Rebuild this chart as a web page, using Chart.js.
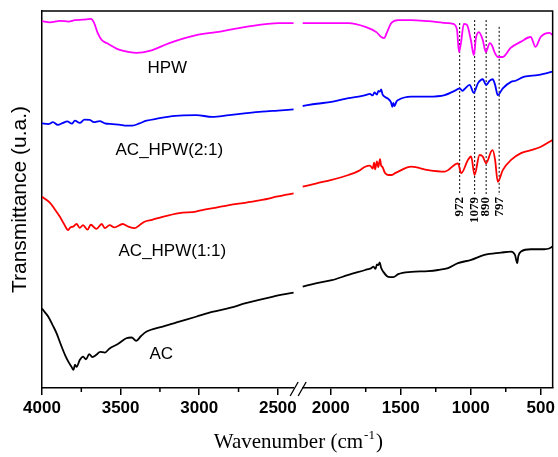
<!DOCTYPE html>
<html>
<head>
<meta charset="utf-8">
<script src="https://cdn.jsdelivr.net/npm/chart.js@4.4.1/dist/chart.umd.min.js"></script>
<style>
html, body { margin: 0; padding: 0; background: #fff; }
canvas { display: block; }
</style>
</head>
<body>
<canvas id="chart" width="558" height="457"></canvas>
<script>
// broken wavenumber axis: 4000-2400 | 2200-415
var leftStart = 4000, leftEnd = 2400, rightStart = 2200, rightEnd = 415;
var gapUnits = 58, rightScale = 0.8905;

var majorWn = [4000, 3500, 3000, 2500, 2000, 1500, 1000, 500];
var tickLabels = ['4000', '3500', '3000', '2500', '2000', '1500', '1000', '500'];
var minorWn = [3750, 3250, 2750, 1750, 1250, 750];

// HPW
var hpwWn = [4000, 3950, 3886, 3830, 3791, 3740, 3690, 3670, 3646, 3620, 3589, 3519, 3443, 3399, 3316, 3190, 3019, 2892, 2703, 2494, 2400, 2300,
    2200, 2015, 1873, 1752, 1674, 1639, 1617, 1603, 1567, 1518, 1425, 1304, 1162, 1127, 1098, 1084, 1070, 1049, 1027, 999, 978, 963, 942, 914, 892, 864, 850, 828, 807, 771, 715, 644, 572, 537, 501, 437, 416];
var hpwT = [97.3, 97.0, 97.4, 97.2, 97.6, 97.7, 97.9, 97.0, 94.2, 92.3, 91.5, 89.9, 89.1, 88.9, 89.4, 91.5, 93.6, 94.4, 95.8, 96.8, 96.8, null,
    96.8, 96.8, 96.8, 95.8, 94.4, 93.1, 92.8, 93.9, 96.8, 97.6, 97.6, 97.3, 96.8, 96.6, 95.0, 89.1, 91.5, 96.6, 96.3, 92.3, 88.3, 92.8, 94.4, 92.3, 89.1, 91.5, 91.0, 88.9, 87.8, 87.8, 90.2, 91.8, 93.1, 90.5, 93.1, 94.2, 93.6];

// AC_HPW(2:1)
var ac21Wn = [4000, 3960, 3930, 3900, 3867, 3840, 3810, 3791, 3760, 3730, 3696, 3670, 3633, 3600, 3551, 3500, 3475, 3424, 3380, 3335, 3260, 3190, 3100, 3019, 2918, 2810, 2700, 2601, 2500, 2400, 2300,
    2200, 2100, 1994, 1873, 1800, 1752, 1720, 1700, 1688, 1670, 1660, 1648, 1640, 1630, 1612, 1589, 1570, 1560, 1553, 1545, 1530, 1518, 1425, 1304, 1186, 1105, 1079, 1060, 1044, 1008, 978, 949, 914, 890, 865, 843, 826, 807, 771, 712, 680, 617, 523, 480, 416];
var ac21T = [70.2, 70.0, 70.5, 69.8, 70.3, 70.7, 70.1, 70.9, 70.3, 71.2, 71.1, 70.5, 70.8, 70.2, 70.0, 69.8, 69.6, 69.6, 70.2, 70.9, 71.5, 72.0, 72.3, 72.4, 71.9, 72.4, 72.9, 73.3, 73.6, 73.9, null,
    74.8, 75.4, 75.9, 76.9, 77.3, 77.7, 78.0, 77.6, 78.4, 77.8, 78.8, 78.6, 79.2, 77.9, 77.2, 76.7, 75.8, 74.6, 75.6, 74.8, 76.0, 76.4, 77.3, 77.3, 77.7, 79.0, 79.5, 78.8, 79.3, 80.4, 78.3, 80.8, 81.9, 80.4, 81.5, 81.9, 80.4, 77.7, 79.5, 81.2, 81.5, 82.6, 83.0, 83.3, 83.9];

// AC_HPW(1:1)
var ac11Wn = [4000, 3975, 3949, 3920, 3886, 3860, 3834, 3820, 3802, 3780, 3760, 3739, 3710, 3690, 3654, 3620, 3600, 3570, 3540, 3487, 3450, 3411, 3380, 3348, 3300, 3234, 3127, 3021, 2981, 2900, 2810, 2700, 2601, 2500, 2400, 2300,
    2200, 2100, 1994, 1873, 1800, 1754, 1720, 1700, 1690, 1683, 1670, 1660, 1648, 1640, 1630, 1612, 1589, 1567, 1540, 1518, 1425, 1304, 1186, 1091, 1068, 1020, 997, 973, 937, 914, 890, 855, 843, 826, 807, 771, 712, 641, 570, 499, 416];
var ac11T = [50.7, 50.0, 49.1, 47.5, 45.4, 43.5, 41.9, 42.6, 42.8, 43.5, 42.5, 43.2, 42.0, 43.3, 42.2, 43.5, 42.4, 43.2, 42.6, 43.5, 42.8, 42.4, 43.2, 44.1, 44.6, 45.4, 46.4, 46.8, 47.2, 47.8, 48.5, 49.2, 49.9, 50.8, 51.6, null,
    53.4, 54.3, 55.2, 56.5, 57.6, 58.7, 59.0, 58.2, 59.8, 58.0, 60.1, 58.6, 60.7, 59.0, 58.6, 57.0, 56.5, 56.5, 57.0, 57.4, 58.7, 57.8, 57.4, 59.6, 57.0, 60.5, 61.4, 56.5, 61.8, 61.4, 59.6, 62.7, 63.1, 60.5, 54.7, 57.8, 60.5, 62.3, 63.1, 64.0, 65.8];

// AC
var acWn = [4000, 3980, 3960, 3930, 3907, 3880, 3854, 3830, 3812, 3800, 3790, 3780, 3760, 3739, 3720, 3700, 3680, 3654, 3630, 3600, 3570, 3520, 3464, 3430, 3401, 3370, 3337, 3232, 3127, 3021, 2918, 2800, 2704, 2536, 2400, 2300,
    2200, 2100, 1992, 1873, 1754, 1710, 1695, 1680, 1670, 1660, 1650, 1640, 1624, 1589, 1553, 1518, 1425, 1304, 1233, 1162, 1091, 997, 902, 784, 712, 684, 668, 660, 641, 570, 475, 440, 416];
var acT = [21.1, 20.0, 18.9, 16.5, 14.5, 11.5, 8.8, 6.8, 5.6, 4.8, 6.2, 5.6, 7.4, 8.3, 7.6, 9.0, 8.2, 8.8, 9.6, 9.4, 10.5, 11.6, 13.2, 13.4, 12.5, 13.8, 14.9, 16.3, 17.6, 18.9, 20.2, 21.3, 22.5, 24.2, 25.3, null,
    26.9, 27.8, 28.6, 30.0, 31.3, 31.8, 32.2, 31.6, 32.8, 32.6, 33.3, 31.9, 30.8, 29.5, 29.4, 30.2, 30.8, 31.0, 31.3, 31.8, 33.1, 34.0, 35.3, 35.9, 36.2, 35.3, 33.1, 35.0, 36.2, 36.8, 36.8, 37.0, 37.5];

// marked bands (dotted lines) and their printed labels
var bandWn = [1079, 972, 890, 797];
var bandTop = [96.8, 97.6, 97.6, 95.8];
var bandBottom = 51.2;
var bandLabels = ['972', '1079', '890', '797'];

// curve names placed in the plot
var nameText = ['HPW', 'AC_HPW(2:1)', 'AC_HPW(1:1)', 'AC'];
var nameWn = [3203, 3190, 3171, 3242];
var nameT = [84.9, 63.1, 36.2, 9.0];

function pos(w) {
    if (w >= 2300) return leftStart - w;
    return (leftStart - leftEnd) + gapUnits + (rightStart - w) * rightScale;
}

function series(wn, t) {
    var out = [];
    for (var i = 0; i < wn.length; i++) {
        out.push({x: pos(wn[i]), y: t[i]});
    }
    return out;
}

function curve(wn, t, color) {
    return {
        data: series(wn, t),
        borderColor: color,
        borderWidth: 1.8,
        pointRadius: 0,
        spanGaps: false,
        cubicInterpolationMode: 'monotone'
    };
}

var datasets = [
    curve(hpwWn, hpwT, '#ff00ff'),
    curve(ac21Wn, ac21T, '#0000ff'),
    curve(ac11Wn, ac11T, '#ff0000'),
    curve(acWn, acT, '#000000')
];
for (var i = 0; i < bandWn.length; i++) {
    datasets.push({
        data: [{x: pos(bandWn[i]), y: bandTop[i]}, {x: pos(bandWn[i]), y: bandBottom}],
        borderColor: '#000',
        borderWidth: 1,
        borderDash: [2, 2],
        pointRadius: 0
    });
}

var decorations = {
    id: 'decorations',
    afterDatasetsDraw: function(chart) {
        var ctx = chart.ctx, a = chart.chartArea, xs = chart.scales.x, ys = chart.scales.y;
        ctx.save();
        ctx.strokeStyle = '#000';
        ctx.lineWidth = 1.5;
        ctx.beginPath();
        ctx.moveTo(a.left, a.top);
        ctx.lineTo(a.right, a.top);
        ctx.lineTo(a.right, a.bottom);
        ctx.stroke();

        // minor ticks
        for (var i = 0; i < minorWn.length; i++) {
            var px = xs.getPixelForValue(pos(minorWn[i]));
            ctx.beginPath();
            ctx.moveTo(px, a.bottom);
            ctx.lineTo(px, a.bottom + 4);
            ctx.stroke();
        }

        // axis break
        var bm = (xs.getPixelForValue(pos(leftEnd)) + xs.getPixelForValue(pos(rightStart))) / 2;
        ctx.fillStyle = '#fff';
        ctx.fillRect(bm - 4, a.bottom - 2, 8, 4);
        ctx.lineWidth = 1.3;
        ctx.beginPath();
        ctx.moveTo(bm - 8, a.bottom + 8);
        ctx.lineTo(bm, a.bottom - 6);
        ctx.moveTo(bm, a.bottom + 8);
        ctx.lineTo(bm + 8, a.bottom - 6);
        ctx.stroke();

        // curve names
        ctx.fillStyle = '#000';
        ctx.font = '17px "Liberation Sans", Arial, sans-serif';
        ctx.textAlign = 'center';
        ctx.textBaseline = 'middle';
        for (var j = 0; j < nameText.length; j++) {
            ctx.fillText(nameText[j], xs.getPixelForValue(pos(nameWn[j])), ys.getPixelForValue(nameT[j]));
        }

        // band labels, rotated
        ctx.font = 'bold 13px "Liberation Serif", "Times New Roman", serif';
        ctx.textAlign = 'right';
        for (var k = 0; k < bandWn.length; k++) {
            ctx.save();
            ctx.translate(xs.getPixelForValue(pos(bandWn[k])), ys.getPixelForValue(bandBottom) + 2);
            ctx.rotate(-Math.PI / 2);
            ctx.fillText(bandLabels[k], 0, 0);
            ctx.restore();
        }

        // x title with superscript
        var big = '21px "Liberation Serif", "Times New Roman", serif';
        var small = '13px "Liberation Serif", "Times New Roman", serif';
        var t1 = 'Wavenumber (cm', t2 = '-1', t3 = ')';
        ctx.font = big;
        var w1 = ctx.measureText(t1).width, w3 = ctx.measureText(t3).width;
        ctx.font = small;
        var w2 = ctx.measureText(t2).width;
        var cx = (a.left + a.right) / 2;
        var x0 = cx - (w1 + w2 + w3) / 2, y0 = 448;
        ctx.textAlign = 'left';
        ctx.textBaseline = 'alphabetic';
        ctx.font = big;
        ctx.fillText(t1, x0, y0);
        ctx.font = small;
        ctx.fillText(t2, x0 + w1 + 1, y0 - 9);
        ctx.font = big;
        ctx.fillText(t3, x0 + w1 + w2 + 2, y0);
        ctx.restore();
    }
};

new Chart(document.getElementById('chart'), {
    type: 'line',
    data: {datasets: datasets},
    options: {
        responsive: false,
        animation: false,
        layout: {padding: {top: 11, right: 3, left: 0, bottom: 0}},
        plugins: {legend: {display: false}, tooltip: {enabled: false}},
        scales: {
            x: {
                type: 'linear',
                min: 0,
                max: pos(rightEnd),
                afterBuildTicks: function(scale) {
                    scale.ticks = majorWn.map(function(w) { return {value: pos(w)}; });
                },
                afterFit: function(scale) { scale.height = 69; },
                ticks: {
                    autoSkip: false,
                    maxRotation: 0,
                    padding: 3,
                    color: '#000',
                    font: {family: '"Liberation Sans", Arial, sans-serif', size: 17, weight: 'bold'},
                    callback: function(v, i) { return tickLabels[i]; }
                },
                grid: {drawOnChartArea: false, drawTicks: true, tickLength: 7, color: '#000', lineWidth: 1.5},
                border: {display: true, color: '#000', width: 1.5}
            },
            y: {
                type: 'linear',
                min: 0,
                max: 100,
                afterFit: function(scale) { scale.width = 42; },
                ticks: {display: false},
                grid: {display: false},
                border: {display: true, color: '#000', width: 1.5},
                title: {
                    display: true,
                    text: 'Transmittance (u.a.)',
                    color: '#000',
                    padding: {top: 8, bottom: 0},
                    font: {family: '"Liberation Sans", Arial, sans-serif', size: 21, weight: 'normal'}
                }
            }
        }
    },
    plugins: [decorations]
});
</script>
</body>
</html>
